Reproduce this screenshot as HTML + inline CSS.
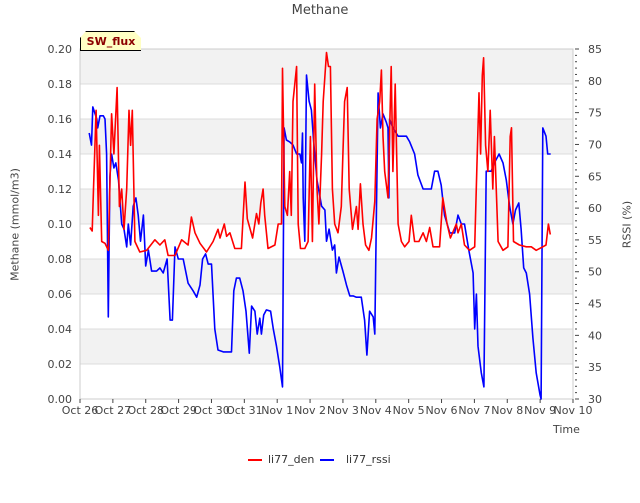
<!DOCTYPE html>
<html><head><meta charset="utf-8"><style>
body{margin:0;background:#fff;font-family:"Liberation Sans","DejaVu Sans",sans-serif}
svg text{font-family:"DejaVu Sans","Liberation Sans",sans-serif}
</style></head><body>
<svg id="c" width="640" height="480" viewBox="0 0 640 480" xmlns="http://www.w3.org/2000/svg"></svg>
<script>
const xTickLabels=["Oct 26","Oct 27","Oct 28","Oct 29","Oct 30","Oct 31","Nov 1","Nov 2","Nov 3","Nov 4","Nov 5","Nov 6","Nov 7","Nov 8","Nov 9","Nov 10"];
const leftTicks=[0,0.02,0.04,0.06,0.08,0.10,0.12,0.14,0.16,0.18,0.20];
const rightTicks=[30,35,40,45,50,55,60,65,70,75,80,85];
const denDays=[0.30,0.37,0.41,0.49,0.56,0.59,0.66,0.76,0.86,0.96,1.03,1.13,1.20,1.27,1.34,1.42,1.49,1.54,1.59,1.67,1.82,2.03,2.28,2.43,2.58,2.68,2.89,3.09,3.29,3.39,3.50,3.65,3.85,4.05,4.20,4.26,4.39,4.46,4.56,4.71,4.91,5.02,5.09,5.25,5.37,5.44,5.50,5.57,5.62,5.72,5.93,6.03,6.13,6.16,6.23,6.31,6.38,6.43,6.48,6.59,6.64,6.71,6.84,6.94,7.01,7.07,7.14,7.21,7.27,7.35,7.40,7.50,7.56,7.62,7.68,7.75,7.85,7.95,8.00,8.05,8.13,8.19,8.29,8.41,8.46,8.53,8.61,8.69,8.79,8.87,8.97,9.04,9.12,9.17,9.22,9.27,9.37,9.47,9.52,9.59,9.68,9.78,9.88,10.01,10.08,10.18,10.31,10.44,10.54,10.64,10.74,10.94,11.04,11.17,11.27,11.45,11.50,11.60,11.70,11.85,12.01,12.08,12.14,12.19,12.24,12.28,12.34,12.41,12.48,12.56,12.61,12.72,12.87,13.02,13.09,13.13,13.19,13.37,13.58,13.73,13.88,14.08,14.18,14.25,14.31];
const denValues=[.098,.096,.12,.165,.105,.145,.09,.089,.085,.163,.14,.178,.11,.12,.097,.12,.165,.145,.165,.09,.084,.085,.091,.088,.091,.082,.082,.091,.088,.104,.095,.089,.084,.09,.097,.092,.10,.093,.095,.086,.086,.124,.103,.092,.106,.10,.112,.12,.105,.086,.088,.10,.10,.189,.11,.105,.13,.105,.17,.19,.10,.086,.086,.09,.15,.09,.18,.12,.10,.14,.17,.198,.19,.19,.12,.10,.095,.11,.14,.17,.178,.12,.097,.11,.097,.123,.10,.088,.085,.092,.113,.16,.17,.188,.15,.13,.115,.19,.13,.18,.10,.09,.087,.09,.105,.09,.09,.095,.09,.098,.087,.087,.115,.10,.092,.10,.095,.10,.088,.085,.087,.135,.175,.14,.185,.195,.145,.13,.165,.12,.15,.09,.085,.087,.15,.155,.09,.088,.087,.087,.085,.087,.088,.10,.094];
const rssiDays=[0.28,0.35,0.39,0.46,0.51,0.54,0.61,0.71,0.76,0.81,0.86,0.91,0.96,1.03,1.09,1.17,1.27,1.34,1.42,1.47,1.54,1.62,1.70,1.77,1.84,1.93,2.00,2.08,2.18,2.33,2.43,2.53,2.65,2.74,2.81,2.89,2.99,3.14,3.29,3.44,3.55,3.65,3.73,3.82,3.90,4.00,4.10,4.20,4.36,4.61,4.68,4.76,4.86,4.96,5.05,5.15,5.22,5.32,5.39,5.47,5.52,5.59,5.67,5.80,5.88,5.98,6.08,6.16,6.21,6.28,6.38,6.48,6.59,6.69,6.74,6.77,6.79,6.84,6.89,6.97,7.04,7.11,7.21,7.35,7.45,7.50,7.58,7.68,7.75,7.80,7.88,8.00,8.11,8.21,8.31,8.41,8.56,8.66,8.73,8.81,8.92,8.97,9.02,9.07,9.14,9.22,9.32,9.37,9.40,9.42,9.52,9.68,9.93,10.03,10.18,10.28,10.44,10.54,10.69,10.79,10.89,10.99,11.09,11.25,11.40,11.50,11.60,11.70,11.83,11.96,12.01,12.06,12.11,12.21,12.29,12.36,12.44,12.51,12.61,12.75,12.87,12.97,13.07,13.17,13.25,13.35,13.42,13.50,13.58,13.68,13.78,13.88,14.00,14.03,14.08,14.18,14.23,14.32];
const rssiValues=[71.8,69.9,75.9,74.8,74,72.6,74.5,74.5,74,68.5,42.9,64.9,68.5,66.3,67.1,64.4,57.5,56.7,53.9,57.5,54.2,60.3,61.6,58.9,54.8,58.9,50.9,53.4,50.1,50.1,50.6,49.8,52,42.4,42.4,53.9,52,52,48.2,47,46,47.9,52,52.8,51.2,51.2,41,37.7,37.4,37.4,47,49,49,47,43.8,37.2,44.6,43.8,40.2,42.7,40.2,43.2,44,43.8,41,38.3,35,31.9,72.6,70.7,70.4,69.9,68.5,68.5,67.1,71.8,61.6,54.8,80.9,76.8,75.4,70.4,64.4,60.3,59.7,54.8,56.7,53.4,54.2,49.8,52.3,50.1,47.9,46.2,46.2,46,46,42.4,36.9,43.8,42.9,40.2,60.3,78.1,72.6,74.8,73.5,72.6,61.6,74,72.6,71.3,71.3,70.4,68.5,65.2,63,63,63,65.8,65.8,63.6,58.9,56.1,56.1,58.9,57.5,57.5,53.4,49.8,41,46.5,38.3,34.1,31.9,65.8,65.8,65.8,67.1,68.5,67.1,64.4,60.3,57.5,59.7,60.8,56.7,50.6,49.8,46.5,39.6,34.1,30.6,30,72.6,71.3,68.5,68.5];

const X0=80,X1=573,Y0=49,Y1=399;
const xs=d=>X0+(X1-X0)*d/15;
const yl=v=>Y1-(Y1-Y0)*v/0.2;
const yr=v=>Y1-(Y1-Y0)*(v-30)/55;
const svg=document.getElementById('c');
const NS='http://www.w3.org/2000/svg';
function mk(tag,attrs,parent){const e=document.createElementNS(NS,tag);for(const k in attrs)e.setAttribute(k,attrs[k]);(parent||svg).appendChild(e);return e;}

// bands
for(let i=0;i<10;i+=2){const top=leftTicks[10-i],bot=leftTicks[9-i];
 const b=mk('rect',{x:X0,y:yl(top),width:X1-X0,height:yl(bot)-yl(top),fill:'#f2f2f2'});
 
 }
leftTicks.forEach(v=>{const l=mk('line',{x1:X0,x2:X1,y1:yl(v),y2:yl(v),stroke:'#dcdcdc','stroke-width':1});
 
 
 const t=mk('text',{x:72,y:yl(v)+4,'text-anchor':'end','font-size':11,fill:'#444'});t.textContent=v.toFixed(2);
 
 });
const frame=mk('rect',{x:X0,y:Y0,width:X1-X0,height:Y1-Y0,fill:'none',stroke:'#ccc'});


// right ticks
for(let v=30;v<=85;v++){const major=v%5===0;mk('line',{x1:X1+2,x2:X1+(major?6:4),y1:yr(v),y2:yr(v),stroke:'#444'});}
rightTicks.forEach(v=>{const t=mk('text',{x:588,y:yr(v)+4,'font-size':11,fill:'#444'});t.textContent=v;
 
 });
xTickLabels.forEach((s,i)=>{mk('line',{x1:xs(i),x2:xs(i),y1:Y1,y2:Y1+4,stroke:'#444'});
 const t=mk('text',{x:xs(i),y:414,'text-anchor':'middle','font-size':11,fill:'#444'});t.textContent=s;
 
 });
function series(days,vals,ys,color,name){const d=days.map((x,i)=>(i?'L':'M')+xs(x).toFixed(1)+' '+ys(vals[i]).toFixed(1)).join('');
 const p=mk('path',{d:d,fill:'none',stroke:color,'stroke-width':1.6,'stroke-linejoin':'round'});
 
 }
series(rssiDays,rssiValues,yr,'#0000ff','li77-rssi-line');
series(denDays,denValues,yl,'#ff0000','li77-den-line');
</script>
<svg width="0" height="0"></svg>
<div style="position:absolute;left:0;top:0;width:640px;height:480px;pointer-events:none">
<div style="position:absolute;top:3px;left:0;width:640px;text-align:center;font:13px 'DejaVu Sans',sans-serif;color:#444">Methane</div>
<div style="position:absolute;left:-45px;top:218px;width:120px;text-align:center;transform:rotate(-90deg);font:11px 'DejaVu Sans',sans-serif;color:#444">Methane (mmol/m3)</div>
<div style="position:absolute;left:587px;top:218px;width:80px;text-align:center;transform:rotate(-90deg);font:11px 'DejaVu Sans',sans-serif;color:#444">RSSI (%)</div>
<div style="position:absolute;left:553px;top:423px;font:11px 'DejaVu Sans',sans-serif;color:#444">Time</div>
<div style="position:absolute;left:80px;top:31px;width:60px;height:18px;background:#ffffc4;border:1px solid #000;clip-path:polygon(6px 0,54px 0,61px 7px,61px 20px,0 20px,0 7px);font:bold 11px 'DejaVu Sans',sans-serif;color:#8b0000;text-align:center;line-height:19px">SW_flux</div>
<div style="position:absolute;top:453px;left:246px;font:11px 'DejaVu Sans',sans-serif;color:#333">
<span style="position:absolute;left:2px;top:0;white-space:nowrap"><span style="display:inline-block;width:14px;height:2px;background:#f00;vertical-align:middle;margin-right:6px"></span>li77_den</span>
<span style="position:absolute;left:74px;top:0;white-space:nowrap"><span style="display:inline-block;width:14px;height:2px;background:#00f;vertical-align:middle;margin-right:12px"></span>li77_rssi</span>
</div></div>
</body></html>
